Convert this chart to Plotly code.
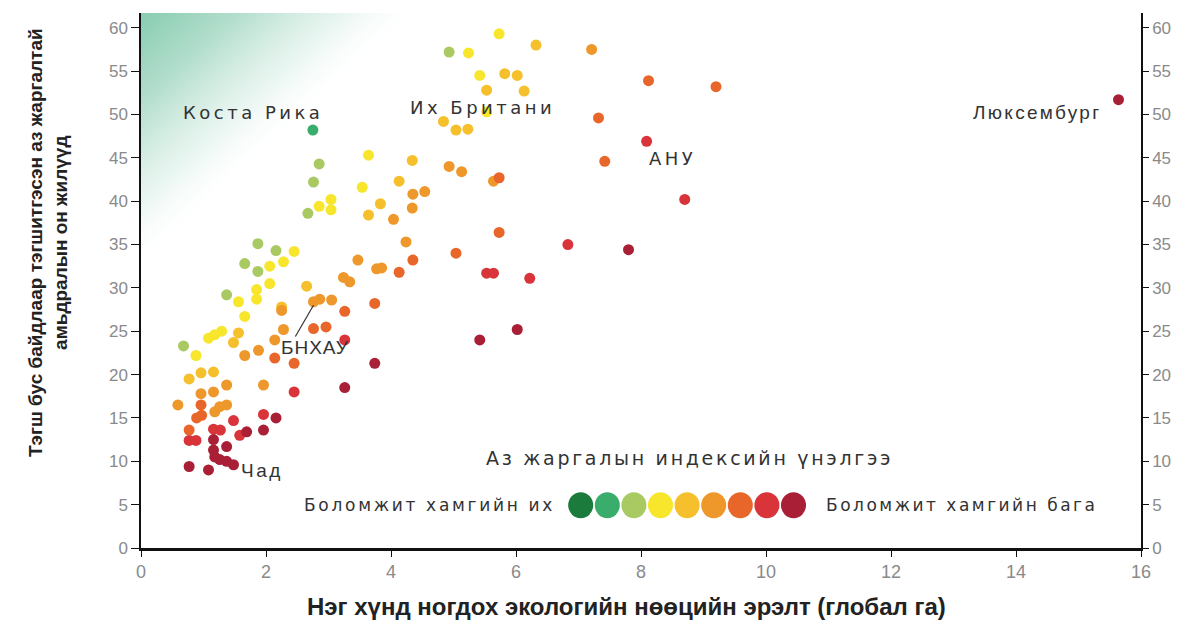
import base64
import plotly.graph_objects as go

# ecological footprint per person (global ha)
footprint = [
    2.75,
    2.85, 2.76, 2.67, 1.87, 2.16, 1.66, 1.87, 1.37, 0.68, 4.93,
    2.85, 3.04, 3.04, 3.64, 3.54, 2.45, 2.06, 2.28, 2.06, 1.85, 1.85, 1.56, 1.66,
    5.73, 5.24, 5.42, 5.53, 1.08, 1.18, 1.29, 0.88,
    4.34, 4.13, 3.83, 3.64, 6.32, 5.82, 6.02, 5.53, 6.13, 4.84, 5.04, 5.23,
    2.65, 1.56, 1.48, 0.77, 0.96, 1.16, 2.25,
    4.35, 4.54, 4.34, 4.04, 4.24, 3.47, 3.77, 3.85, 3.24, 3.34, 2.25, 2.76, 2.86,
    3.05, 7.21, 4.93, 5.13, 5.64, 2.28, 2.14, 1.88, 1.66, 0.96, 1.16, 1.37, 0.59,
    1.18, 1.26, 1.37, 1.96,
    4.35, 4.13, 3.26, 3.74, 2.76, 2.96, 2.14, 2.45, 8.12, 9.20, 7.32, 7.42, 5.73,
    5.73, 5.04, 0.96, 0.89, 0.97, 0.77,
    3.26, 2.45, 8.09, 8.70, 6.83, 5.53, 5.64, 6.22, 0.77, 0.88, 1.16, 1.27, 1.48,
    1.58, 1.96,
    3.74, 3.26, 7.80, 6.02, 5.42, 1.69, 2.16, 1.96, 1.16, 1.37, 1.16, 1.18, 1.26,
    1.37, 1.48, 0.77, 1.08, 15.64,
]

# inequality-adjusted happy life years
happy_years = [
    48.2,
    44.3, 42.2, 38.6, 35.1, 34.3, 32.8, 31.9, 29.2, 23.3, 57.2,
    39.4, 40.2, 39.0, 45.3, 41.6, 34.2, 32.5, 33.0, 30.5, 29.8, 28.7, 28.4, 26.7,
    59.3, 57.1, 54.5, 50.3, 24.2, 24.6, 25.0, 22.2,
    44.7, 42.3, 39.7, 38.4, 58.0, 54.7, 54.5, 52.8, 52.7, 49.2, 48.2, 48.3,
    30.2, 24.8, 23.7, 19.5, 20.2, 20.3, 27.8,
    40.8, 41.1, 39.2, 37.9, 35.3, 33.2, 32.2, 32.3, 31.2, 30.7, 27.4, 28.4, 28.7,
    28.6, 57.5, 44.0, 43.4, 42.3, 25.2, 24.0, 22.8, 22.2, 17.8, 18.0, 18.8, 16.5,
    15.7, 16.3, 16.5, 18.8,
    33.2, 31.8, 27.3, 28.2, 25.3, 25.5, 21.9, 21.3, 53.9, 53.2, 49.6, 44.6, 42.7,
    36.4, 34.0, 16.5, 15.0, 15.3, 13.6,
    24.0, 18.0, 46.9, 40.2, 35.0, 31.7, 31.7, 31.1, 12.4, 12.4, 13.7, 13.6, 14.7,
    13.0, 15.4,
    21.3, 18.5, 34.4, 25.2, 24.0, 13.4, 15.0, 13.6, 12.5, 11.7, 11.3, 10.5, 10.2,
    10.0, 9.6, 9.4, 9.0, 51.7,
]

# happiness index rating (0 = best possible, 8 = worst possible)
rating = [1] + [2] * 10 + [3] * 21 + [4] * 19 + [5] * 30 + [6] * 19 + [7] * 15 + [8] * 18

palette = ['#1b7b3c', '#3aac6c', '#a9c962', '#f7e62c', '#f5c02c',
           '#ee972a', '#e9662a', '#d8343a', '#a81f36']

labels = ['Коста Рика', 'Их Британи', 'АНУ', 'Люксембург', 'Чад', 'БНХАУ']
label_x = [1.79, 5.47, 8.50, 14.34, 1.94, 2.78]
label_y = [50.2, 50.8, 44.9, 50.2, 8.9, 23.1]


def spaced(text, px):
    return '<span style="letter-spacing:%.1fpx">%s</span>' % (px, text)


fig = go.Figure()

fig.add_trace(go.Scatter(
    x=footprint, y=happy_years, mode='markers',
    marker=dict(size=11, color=[palette[r] for r in rating], line=dict(width=0)),
    hoverinfo='x+y', showlegend=False))

# invisible trace so the right-hand axis gets drawn
fig.add_trace(go.Scatter(x=[None], y=[None], yaxis='y2', showlegend=False))

# green glow in the top-left corner
svg = ("<svg xmlns='http://www.w3.org/2000/svg' viewBox='0 0 100 100' preserveAspectRatio='none'>"
       "<defs><linearGradient id='g' x1='0' y1='0' x2='0.5' y2='0.5'>"
       "<stop offset='0' stop-color='#72c3a4' stop-opacity='0.85'/>"
       "<stop offset='0.35' stop-color='#80c8ab' stop-opacity='0.6'/>"
       "<stop offset='0.75' stop-color='#a8dac6' stop-opacity='0.22'/>"
       "<stop offset='1' stop-color='#ffffff' stop-opacity='0'/>"
       "</linearGradient></defs><rect width='100' height='100' fill='url(#g)'/></svg>")
fig.add_layout_image(dict(
    source='data:image/svg+xml;base64,' + base64.b64encode(svg.encode()).decode(),
    xref='x', yref='y', x=0, y=61.7, sizex=4.5, sizey=30,
    sizing='stretch', layer='below', opacity=1))

label_styles = {
    'Коста Рика': ('DejaVu Sans', 18, 3.5),
    'Их Британи': ('DejaVu Sans', 18, 3.5),
    'АНУ': ('DejaVu Sans', 18, 3.5),
    'Люксембург': ('Liberation Sans', 19, 2.3),
    'Чад': ('Liberation Sans', 19, 2.5),
    'БНХАУ': ('Liberation Sans', 19, 1.0),
}
for name, lx, ly in zip(labels, label_x, label_y):
    fam, size, ls = label_styles[name]
    fig.add_annotation(x=lx, y=ly, text=spaced(name, ls), showarrow=False,
                       font=dict(family=fam, size=size, color='#333333'))

# leader line for China
fig.add_shape(type='line', x0=2.47, y0=24.4, x1=2.76, y1=28.0,
              line=dict(color='#333333', width=1.2))

# colour key
legend_font = dict(family='DejaVu Sans', size=17, color='#333333')
fig.add_annotation(xref='paper', yref='paper', x=0.548, y=0.168,
                   xanchor='center', yanchor='middle',
                   text=spaced('Аз жаргалын индексийн үнэлгээ', 2.7), showarrow=False,
                   font=dict(family='DejaVu Sans', size=19, color='#333333'))
fig.add_annotation(xref='paper', yref='paper', x=0.416, y=0.08,
                   xanchor='right', yanchor='middle',
                   text=spaced('Боломжит хамгийн их', 2.7), showarrow=False, font=legend_font)
fig.add_annotation(xref='paper', yref='paper', x=0.683, y=0.08,
                   xanchor='left', yanchor='middle',
                   text=spaced('Боломжит хамгийн бага', 2.5), showarrow=False, font=legend_font)
for i, c in enumerate(palette):
    fig.add_shape(type='circle', xref='paper', yref='paper',
                  xsizemode='pixel', ysizemode='pixel',
                  xanchor=0.4397 + i * 0.0266, yanchor=0.08,
                  x0=-12.5, x1=12.5, y0=-13, y1=13,
                  fillcolor=c, line=dict(width=0))

# axis titles
fig.add_annotation(xref='paper', yref='paper', x=-0.093, y=0.57, textangle=-90,
                   xanchor='center', yanchor='middle',
                   text='Тэгш бус байдлаар тэгшитгэсэн аз жаргалтай<br>амьдралын он жилүүд',
                   showarrow=False,
                   font=dict(family='Liberation Sans', size=19, color='#222222', weight='bold'))
fig.add_annotation(xref='paper', yref='paper', x=0.4855, y=-0.11,
                   xanchor='center', yanchor='middle',
                   text='Нэг хүнд ногдох экологийн нөөцийн эрэлт (глобал га)',
                   showarrow=False,
                   font=dict(family='Liberation Sans', size=24, color='#222222', weight='bold'))

tick_font = dict(family='Liberation Sans', size=17, color='#8a8a8a')
fig.update_layout(
    width=1169, height=614,
    margin=dict(l=133, r=36, t=5, b=74),
    plot_bgcolor='white', paper_bgcolor='white',
    xaxis=dict(range=[0, 16], tickvals=list(range(0, 17, 2)), showgrid=False,
               zeroline=False, showline=True, linecolor='#111111', linewidth=2.5,
               ticks='outside', ticklen=6, tickcolor='#111111',
               tickfont=dict(family='Liberation Sans Narrow, Liberation Sans', size=18, color='#8a8a8a')),
    yaxis=dict(range=[0, 61.7], tickvals=list(range(0, 61, 5)), showgrid=False,
               zeroline=False, showline=True, linecolor='#111111', linewidth=1.5,
               ticks='outside', ticklen=8, tickcolor='#111111', tickfont=tick_font),
    yaxis2=dict(range=[0, 61.7], tickvals=list(range(0, 61, 5)), overlaying='y',
                side='right', showgrid=False, zeroline=False, showline=True,
                linecolor='#111111', linewidth=1.5, ticks='outside', ticklen=6,
                tickcolor='#111111', tickfont=tick_font),
)

fig.write_html('out.html')
